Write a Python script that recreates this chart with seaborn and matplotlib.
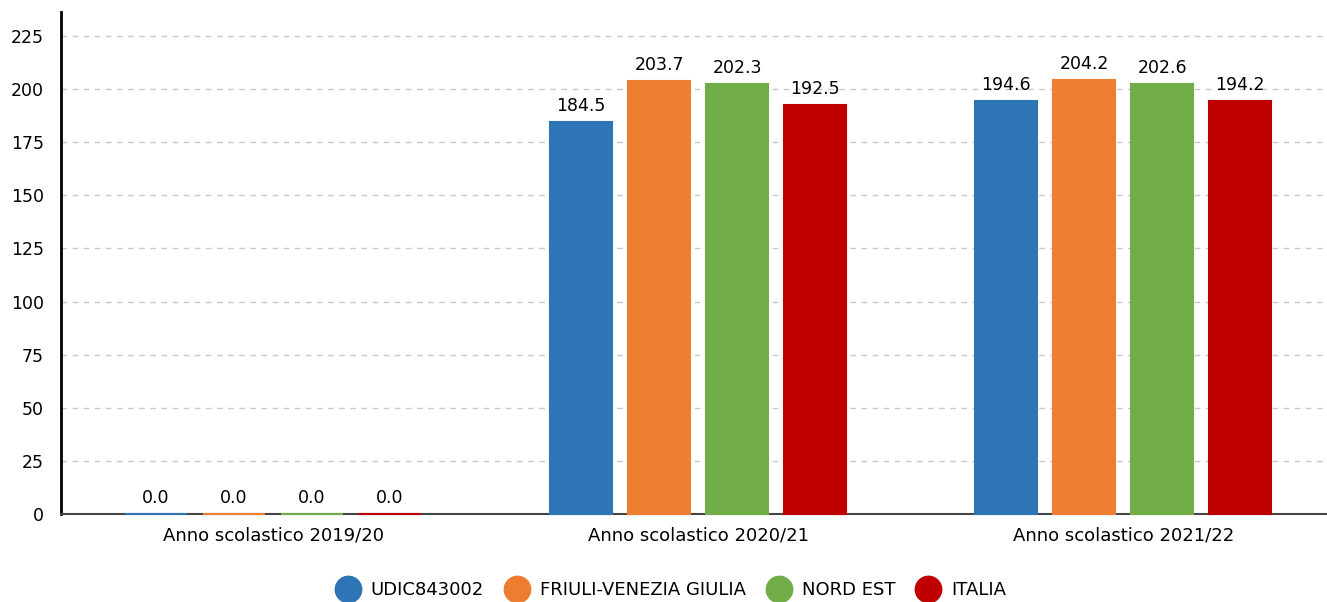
import pandas as pd
import numpy as np
import matplotlib
matplotlib.use("Agg")
import matplotlib.pyplot as plt
import seaborn as sns
from matplotlib.lines import Line2D

years = ["Anno scolastico 2019/20", "Anno scolastico 2020/21", "Anno scolastico 2021/22"]
groups = ["UDIC843002", "FRIULI-VENEZIA GIULIA", "NORD EST", "ITALIA"]
udic = [0.0, 184.5, 194.6]
fvg = [0.0, 203.7, 204.2]
nord_est = [0.0, 202.3, 202.6]
italia = [0.0, 192.5, 194.2]
colors = ["#2E75B6", "#ED7D31", "#70AD47", "#C00000"]

df = pd.DataFrame({
    "year": years * 4,
    "group": np.repeat(groups, 3),
    "value": udic + fvg + nord_est + italia,
})

sns.set_style("white")
plt.rcParams['font.family'] = ['DejaVu Sans']
plt.rcParams['text.color'] = 'black'

fig = plt.figure(figsize=(13.27, 6.02), dpi=100)
ax = fig.add_axes([0.0456, 0.1462, 0.961, 0.834])

sns.barplot(data=df, x="year", y="value", hue="group", order=years, hue_order=groups,
            palette=colors, width=0.734, gap=0.2, saturation=1, legend=False,
            linewidth=0, ax=ax)

# zero-height bars shown as thin coloured strips on the baseline
for patch in ax.patches:
    patch.set_edgecolor(patch.get_facecolor())
    patch.set_linewidth(1.5)
    patch.set_clip_on(False)
    patch.set_zorder(3)

for cont in ax.containers:
    ax.bar_label(cont, fmt="%.1f", padding=5, fontsize=12.5, color="black")

ax.set_ylim(0, 236.3)
ax.set_xlim(-0.5, 2.5)
ax.set_yticks(np.arange(0, 226, 25))
ax.yaxis.grid(True, linestyle=(0, (4, 4)), color="#c8c8c8", linewidth=1)
ax.set_axisbelow(True)
ax.set_xlabel("")
ax.set_ylabel("")

for s in ["top", "right"]:
    ax.spines[s].set_visible(False)
ax.spines["left"].set_color("black")
ax.spines["left"].set_linewidth(2)
ax.spines["bottom"].set_color("#444444")
ax.spines["bottom"].set_linewidth(1.5)

ax.tick_params(axis="y", length=5, width=2, color="black", labelcolor="black",
               labelsize=12.5, pad=7)
ax.tick_params(axis="x", length=0, labelsize=13, labelcolor="black", pad=9)

handles = [Line2D([0], [0], marker="o", color="none", markerfacecolor=c,
                  markeredgecolor=c, markersize=19) for c in colors]
fig.legend(handles, groups, loc="center", bbox_to_anchor=(0.505, 0.02), ncol=4,
           frameon=False, fontsize=13, handletextpad=0.5, columnspacing=1.1,
           handlelength=1.5)

fig.savefig("out.png", dpi=100)
